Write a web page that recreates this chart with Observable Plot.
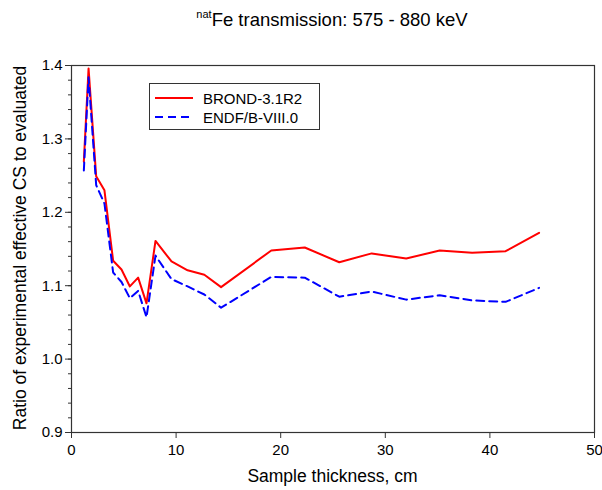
<!DOCTYPE html>
<html>
<head>
<meta charset="utf-8">
<script src="https://cdn.jsdelivr.net/npm/d3@7"></script>
<script src="https://cdn.jsdelivr.net/npm/@observablehq/plot@0.6"></script>
<style>
  html, body { margin: 0; padding: 0; background: #fff; }
  #wrap { position: relative; width: 602px; height: 490px; font-family: "Liberation Sans", Arial, sans-serif; color: #000; }
  #title { position: absolute; left: 0; width: 602px; top: 9px; text-align: center; font-size: 18.5px; padding-left: 62px; box-sizing: border-box; }
  #title sup { font-size: 11px; vertical-align: 8px; line-height: 0; }
  #xlabel { position: absolute; left: 71px; width: 523px; top: 466px; text-align: center; font-size: 17.5px; }
  #ylabel { position: absolute; left: 20px; top: 248px; font-size: 17.5px; white-space: nowrap; transform: translate(-50%, -50%) rotate(-90deg); }
  #legend { position: absolute; left: 149px; top: 83px; width: 171px; height: 47px; border: 1px solid #333; box-sizing: border-box; background: #fff; font-size: 15px; }
  .lg-row { position: absolute; left: 0; height: 18px; display: flex; align-items: center; }
  .lg-row svg { margin-left: 5px; }
  .lg-row span { margin-left: 10px; }
  svg.plot { position: absolute; left: 0; top: 0; }
</style>
</head>
<body>
<div id="wrap">
  <div id="title"><sup>nat</sup>Fe transmission: 575 - 880 keV</div>
  <div id="ylabel">Ratio of experimental effective CS to evaluated</div>
  <div id="xlabel">Sample thickness, cm</div>
</div>
<script>
// Sample thickness (cm)
const thickness = [1.18, 1.63, 2.36, 3.15, 3.98, 4.78, 5.58, 6.37, 7.17, 8.03, 9.56, 11.1, 12.7, 14.3, 19.1, 22.3, 25.6, 28.7, 32.0, 35.2, 38.3, 41.5, 44.7];
// Ratio for BROND-3.1R2
const brond = [1.269, 1.396, 1.249, 1.230, 1.134, 1.122, 1.099, 1.111, 1.076, 1.161, 1.133, 1.121, 1.115, 1.098, 1.148, 1.152, 1.132, 1.144, 1.137, 1.148, 1.145, 1.147, 1.172];
// Ratio for ENDF/B-VIII.0
const endf = [1.257, 1.384, 1.237, 1.212, 1.118, 1.105, 1.083, 1.093, 1.057, 1.141, 1.109, 1.099, 1.088, 1.070, 1.112, 1.111, 1.085, 1.092, 1.081, 1.087, 1.080, 1.078, 1.097];
const seriesNames = ["BROND-3.1R2", "ENDF/B-VIII.0"];
const xTicks = [0, 10, 20, 30, 40, 50];
const yTicks = [0.9, 1.0, 1.1, 1.2, 1.3, 1.4];
const yMinor = d3.range(45, 71).map(k => k / 50);

const rows = thickness.flatMap((t, i) => [
  {t, v: brond[i], s: seriesNames[0]},
  {t, v: endf[i], s: seriesNames[1]}
]);

const axisColor = "#333";
const plot = Plot.plot({
  width: 602,
  height: 490,
  marginLeft: 71,
  marginRight: 8,
  marginTop: 65,
  marginBottom: 58,
  style: {fontFamily: "'Liberation Sans', Arial, sans-serif", fontSize: "15px", color: "#000", background: "transparent"},
  x: {domain: [0, 50]},
  y: {domain: [0.9, 1.4]},
  marks: [
    Plot.frame({stroke: axisColor, strokeWidth: 1.2}),
    Plot.axisY(yMinor, {tickSize: 3, text: null, stroke: axisColor, label: null}),
    Plot.axisY(yTicks, {tickSize: 6, tickPadding: 3, tickFormat: d => d.toFixed(1), stroke: axisColor, fill: "#000", label: null}),
    Plot.axisX(xTicks, {tickSize: 6, tickPadding: 6, tickFormat: d => String(d), stroke: axisColor, fill: "#000", label: null}),
    Plot.line(rows.filter(d => d.s === seriesNames[0]), {x: "t", y: "v", stroke: "#ff0000", strokeWidth: 2}),
    Plot.line(rows.filter(d => d.s === seriesNames[1]), {x: "t", y: "v", stroke: "#0000ff", strokeWidth: 2, strokeDasharray: "8,5"})
  ]
});
plot.classList.add("plot");
const wrap = document.getElementById("wrap");
wrap.insertBefore(plot, wrap.firstChild);

// Legend
const legend = document.createElement("div");
legend.id = "legend";
const styles = [
  {stroke: "#ff0000", dash: null, top: 5},
  {stroke: "#0000ff", dash: "8,5", top: 24}
];
seriesNames.forEach((name, i) => {
  const row = document.createElement("div");
  row.className = "lg-row";
  row.style.top = styles[i].top + "px";
  row.innerHTML = `<svg width="38" height="6"><line x1="0" x2="38" y1="3" y2="3" stroke="${styles[i].stroke}" stroke-width="2" ${styles[i].dash ? `stroke-dasharray="${styles[i].dash}"` : ""}/></svg><span>${name}</span>`;
  legend.appendChild(row);
});
wrap.appendChild(legend);
</script>
</body>
</html>
